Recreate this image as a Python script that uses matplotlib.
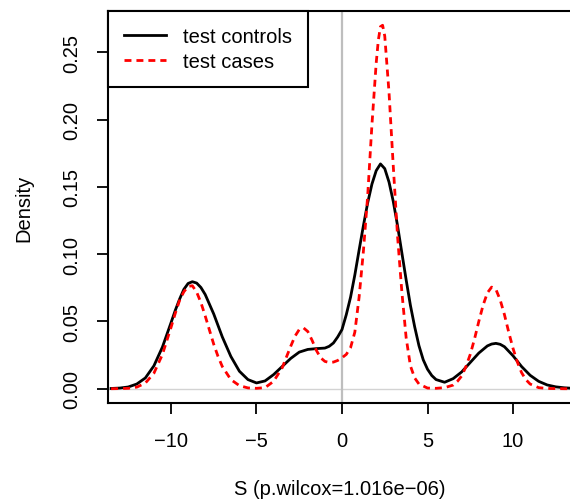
import matplotlib
matplotlib.use("Agg")
import matplotlib.pyplot as plt

plt.rcParams['font.family'] = ['Liberation Sans', 'DejaVu Sans']

# ---- data ----
ctrl_x = [-13.5, -13, -12.5, -12, -11.5, -11, -10.5, -10.25, -10, -9.75, -9.5,
          -9.25, -9, -8.75, -8.5, -8.25, -8,
          -7.5, -7, -6.5, -6, -5.5, -5, -4.5, -4, -3.5, -3, -2.5, -2, -1.5, -1,
          -0.75, -0.5, -0.25, 0, 0.25, 0.5, 0.75, 1, 1.25, 1.5, 1.75, 2, 2.25, 2.5,
          2.75, 3, 3.25, 3.5, 3.75, 4, 4.25, 4.5, 4.75, 5, 5.25, 5.5,
          6, 6.5, 7, 7.5, 8, 8.5, 8.75, 9, 9.25, 9.5, 10, 10.5, 11, 11.5, 12,
          12.5, 13, 13.5]
ctrl_y = [0.0002, 0.0005, 0.0013, 0.0035, 0.0080, 0.0170, 0.0310, 0.0400, 0.0490,
          0.0582, 0.0665,
          0.0738, 0.0782, 0.0795, 0.0785, 0.0752, 0.0700,
          0.0555, 0.0385, 0.0240, 0.0130, 0.0068, 0.0043, 0.0058, 0.0105, 0.0165,
          0.0225, 0.0272, 0.0292, 0.0298, 0.0302,
          0.0315, 0.0340, 0.0385, 0.0440, 0.0550, 0.0680, 0.0845, 0.1030, 0.1210,
          0.1380, 0.1520, 0.1620, 0.1670, 0.1635, 0.1535, 0.1390, 0.1210, 0.1010,
          0.0810, 0.0620, 0.0460, 0.0320, 0.0215, 0.0145, 0.0098, 0.0068,
          0.0048, 0.0075, 0.0125, 0.0195, 0.0265, 0.0318, 0.0332,
          0.0337, 0.0330, 0.0312, 0.0245, 0.0165, 0.0100, 0.0055, 0.0028, 0.0014,
          0.0007, 0.0003]

case_x = [-13.5, -13, -12.5, -12, -11.5, -11, -10.5, -10, -9.75, -9.5, -9.25, -9,
          -8.75, -8.5, -8.25, -8, -7.75, -7.5, -7.25, -7, -6.5, -6, -5.5, -5, -4.5,
          -4, -3.5, -3, -2.75, -2.5, -2.25, -2, -1.75, -1.5, -1.25, -1, -0.75, -0.5,
          -0.25, 0, 0.25, 0.5, 0.75, 1, 1.25, 1.5, 1.75, 2, 2.125, 2.25, 2.375, 2.5,
          2.75, 3, 3.25, 3.5, 3.75, 4, 4.25, 4.5, 5, 5.5, 6, 6.5, 6.75, 7, 7.25, 7.5,
          7.75, 8, 8.25, 8.5, 8.75, 9, 9.25, 9.5, 9.75, 10, 10.25, 10.5, 10.75, 11,
          11.5, 12, 12.5, 13, 13.5]
case_y = [0.0000, 0.0001, 0.0003, 0.0012, 0.0042, 0.0115, 0.0255, 0.0455, 0.0560,
          0.0656, 0.0720, 0.0760, 0.0765, 0.0718, 0.0640, 0.0541, 0.0435, 0.0330,
          0.0240, 0.0165, 0.0068, 0.0023, 0.0006, 0.0003, 0.0008,
          0.0055, 0.0155, 0.0315, 0.0390, 0.0440, 0.0452, 0.0425, 0.0360, 0.0285,
          0.0230, 0.0203, 0.0195, 0.0198, 0.0210, 0.0230, 0.0255, 0.0305, 0.0420,
          0.0680, 0.1020, 0.1430, 0.1960, 0.2420, 0.2590, 0.2690, 0.2700, 0.2620,
          0.2200, 0.1650, 0.1130, 0.0720, 0.0380, 0.0170, 0.0080, 0.0035, 0.0005,
          0.0003, 0.0008, 0.0027, 0.0055, 0.0095, 0.0165, 0.0255, 0.0370, 0.0500,
          0.0620, 0.0712, 0.0755, 0.0738, 0.0660, 0.0550, 0.0420, 0.0300, 0.0200,
          0.0120, 0.0068, 0.0035, 0.0008, 0.0002, 0.0001, 0.0000, 0.0000]

series_labels = ["test controls", "test cases"]
x_ticks = [-10, -5, 0, 5, 10]
y_ticks = [0.00, 0.05, 0.10, 0.15, 0.20, 0.25]
x_label = "S (p.wilcox=1.016e\u221206)"
y_label = "Density"

# ---- figure ----
W, H = 570, 502
fig = plt.figure(figsize=(W / 100, H / 100), dpi=100)
ax_l, ax_r, ax_t, ax_b = 108, 570, 12, 404
ax = fig.add_axes([ax_l / W, 1 - ax_b / H, (ax_r - ax_l) / W, (ax_b - ax_t) / H])

ax.axhline(0, color='#d3d3d3', lw=1.0, zorder=1)
ax.axvline(0, color='#bebebe', lw=1.6, zorder=1)

ax.plot(ctrl_x, ctrl_y, color='black', lw=2.0, label=series_labels[0], zorder=3,
        solid_joinstyle='round')
ax.plot(case_x, case_y, color='#ff0000', lw=2.0, linestyle=(0, (2.5, 1.8)),
        dash_capstyle='butt', label=series_labels[1], zorder=4)

ax.set_xlim(-13.684, 13.333)
ax.set_ylim(-0.0106, 0.2806)

ax.set_xticks(x_ticks)
ax.set_xticklabels([("\u2212%d" % -v) if v < 0 else "%d" % v for v in x_ticks])
ax.set_yticks(y_ticks)
ax.set_yticklabels(["%.2f" % v for v in y_ticks])

ax.tick_params(axis='both', direction='out', length=8, width=1.3,
               labelsize=14.5, colors='black')
ax.tick_params(axis='x', pad=12)
ax.tick_params(axis='y', pad=11)
for lbl in ax.get_yticklabels():
    lbl.set_rotation(90)
    lbl.set_va('center')

for s in ['left', 'bottom', 'top']:
    ax.spines[s].set_linewidth(1.5)
    ax.spines[s].set_color('black')
ax.spines['right'].set_visible(False)

ax.set_xlabel(x_label, fontsize=14.5)
ax.xaxis.set_label_coords((340 - ax_l) / (ax_r - ax_l), (ax_b - 480) / (ax_b - ax_t))
ax.set_ylabel(y_label, fontsize=14.5)
ax.yaxis.set_label_coords((33 - ax_l) / (ax_r - ax_l), 0.5)

leg = ax.legend(loc='upper left', bbox_to_anchor=(0, 1), borderaxespad=0,
                fontsize=14.5, frameon=True, fancybox=False, edgecolor='black',
                framealpha=1, handlelength=2.1, handletextpad=0.8,
                borderpad=0.8, labelspacing=0.3)
leg.get_frame().set_linewidth(1.5)

fig.savefig("out.png", dpi=100)
